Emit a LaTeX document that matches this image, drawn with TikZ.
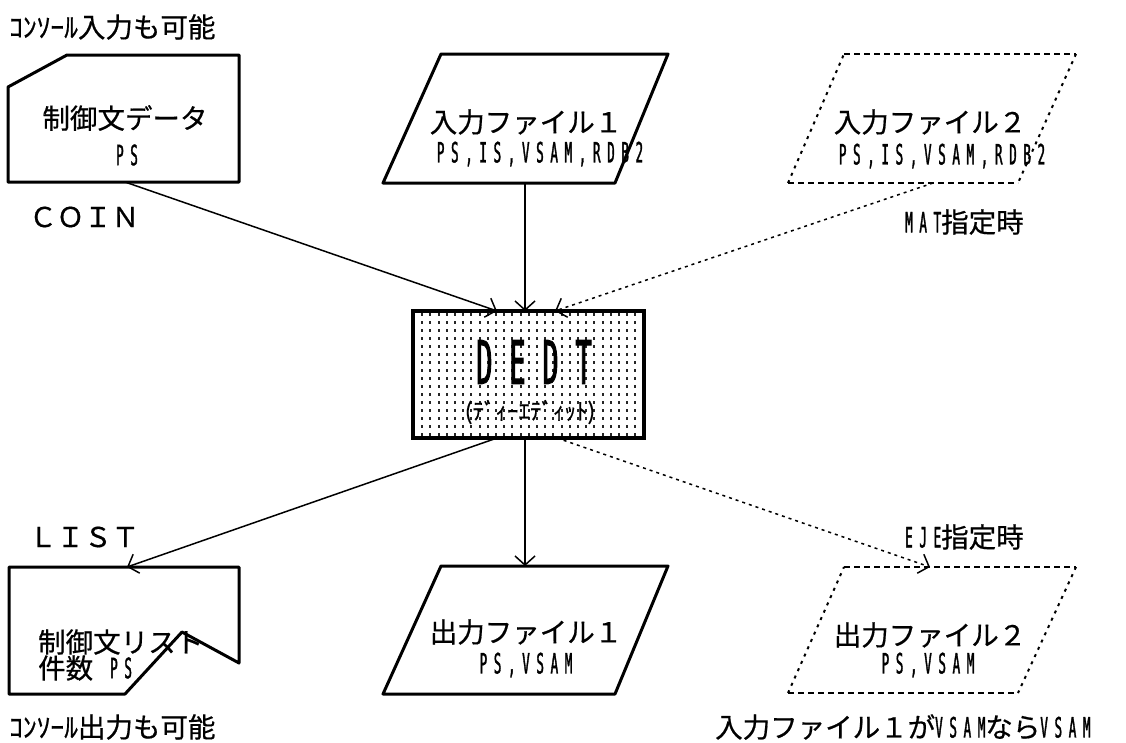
\documentclass[tikz,border=0pt]{standalone}
\usepackage{fontspec}
\setmainfont[FakeBold=0.6]{Noto Sans CJK JP}
\newfontfamily\nar[FakeStretch=0.45,LetterSpace=23.6,FakeBold=1.2]{DejaVu Sans Mono}
\newfontfamily\narb[FakeStretch=0.45,LetterSpace=28,FakeBold=1.5]{DejaVu Sans Mono}
\newcommand\nwf{\nar\fontsize{28}{30}\selectfont}
\usetikzlibrary{arrows.meta,patterns}
\pgfdeclarepatternformonly{vdots}{\pgfqpoint{-1pt}{-1pt}}{\pgfqpoint{9pt}{9pt}}{\pgfqpoint{8.2pt}{8pt}}{%
  \pgfpathrectangle{\pgfqpoint{3pt}{2pt}}{\pgfqpoint{2pt}{3.4pt}}\pgfusepath{fill}}
\begin{document}
\begin{tikzpicture}[x=1pt,y=-1pt,
  box/.style={line width=3pt, line join=round},
  hdash/.style={line width=2.5pt, dash pattern=on 6pt off 4pt},
  sdash/.style={line width=2pt, dash pattern=on 3pt off 5pt},
  conn/.style={line width=1.5pt, -{Straight Barb[length=9pt,width=20pt]}},
  dconn/.style={conn, dash pattern=on 3pt off 4pt},
  jt/.style={font=\fontsize{27.5}{29}\selectfont, inner sep=0pt},
  st/.style={font=\nwf, inner sep=0pt},
  lab/.style={font=\fontsize{27.5}{29}\selectfont, anchor=west, inner sep=0pt}]
\useasboundingbox (0,0) rectangle (1126,742);

% control data card
\draw[box] (8,87) -- (67,55) -- (239,55) -- (239,182) -- (8,182) -- cycle;
\node[jt] (ctlt) at (125,118) {制御文データ};
\node[st] (ctlp) at (127,155) {PS};
\coordinate (ctls) at (125,182);
\node[lab] (conin) at (9,27) {ｺﾝｿｰﾙ入力も可能};
\node[jt, anchor=west] (coin) at (29,217) {ＣＯＩＮ};

% input file 1
\draw[box] (441,54) -- (668,54) -- (615,183) -- (383,183) -- cycle;
\node[jt] (in1t) at (526,122) {入力ファイル１};
\node[st] (in1p) at (540,154) {PS,IS,VSAM,RDB2};
\coordinate (in1s) at (525,183);

% input file 2
\draw[hdash] (844,54) -- (1076,54);
\draw[hdash] (788,183) -- (1018,183);
\draw[sdash] (1076,54) -- (1018,183);
\draw[sdash] (788,183) -- (844,54);
\node[jt] (in2t) at (930,122) {入力ファイル２};
\node[st] (in2p) at (942,156) {PS,IS,VSAM,RDB2};
\coordinate (in2s) at (933,183);
\node[lab] (mat) at (905,222) {{\nwf MAT}指定時};

% DEDT
\node[draw, line width=4pt, minimum width=231pt, minimum height=127pt, pattern=vdots, pattern color=black!85] (dedt) at (528.5,374.5) {};
\node[font=\narb\fontsize{60}{64}\selectfont, inner sep=0pt] (dedtt) at (534,362) {DEDT};
\node[font=\fontsize{23}{24}\selectfont, inner sep=0pt] (dedtk) at (530,412) {(ﾃﾞｨｰｴﾃﾞｨｯﾄ)};
\coordinate (dA) at (497,311);
\coordinate (dB) at (525,311);
\coordinate (dC) at (555,311);
\coordinate (dD) at (497,438);
\coordinate (dE) at (525,438);
\coordinate (dF) at (557,438);

% list card
\draw[box] (9,567) -- (239,567) -- (239,663) -- (182,632) -- (125,694) -- (9,694) -- cycle;
\node[jt, anchor=west] (listt) at (38,642) {制御文リスト};
\node[jt, anchor=west] (listc) at (38,668) {件数};
\node[st, anchor=west] (listp) at (110,668) {PS};
\coordinate (listn) at (127,567);
\node[jt, anchor=west] (list) at (29,537) {ＬＩＳＴ};
\node[lab] (conout) at (9,727) {ｺﾝｿｰﾙ出力も可能};

% output file 1
\draw[box] (441,566) -- (668,566) -- (615,694) -- (383,694) -- cycle;
\node[jt] (out1t) at (526,632) {出力ファイル１};
\node[st] (out1p) at (526,665) {PS,VSAM};
\coordinate (out1n) at (525,566);

% output file 2
\draw[hdash] (844,567) -- (1076,567);
\draw[hdash] (788,693) -- (1018,693);
\draw[sdash] (1076,567) -- (1018,693);
\draw[sdash] (788,693) -- (844,567);
\node[jt] (out2t) at (930,635) {出力ファイル２};
\node[st] (out2p) at (928,665) {PS,VSAM};
\coordinate (out2n) at (930,567);
\node[lab] (eje) at (905,537) {{\nwf EJE}指定時};
\node[lab] (vsam) at (715,727) {入力ファイル１が{\nwf VSAM}なら{\nwf VSAM}};

% connectors
\draw[conn] (ctls) -- (dA);
\draw[conn] (in1s) -- (dB);
\draw[dconn] (in2s) -- (dC);
\draw[conn] (dD) -- (listn);
\draw[conn] (dE) -- (out1n);
\draw[dconn] (dF) -- (out2n);
\end{tikzpicture}
\end{document}
